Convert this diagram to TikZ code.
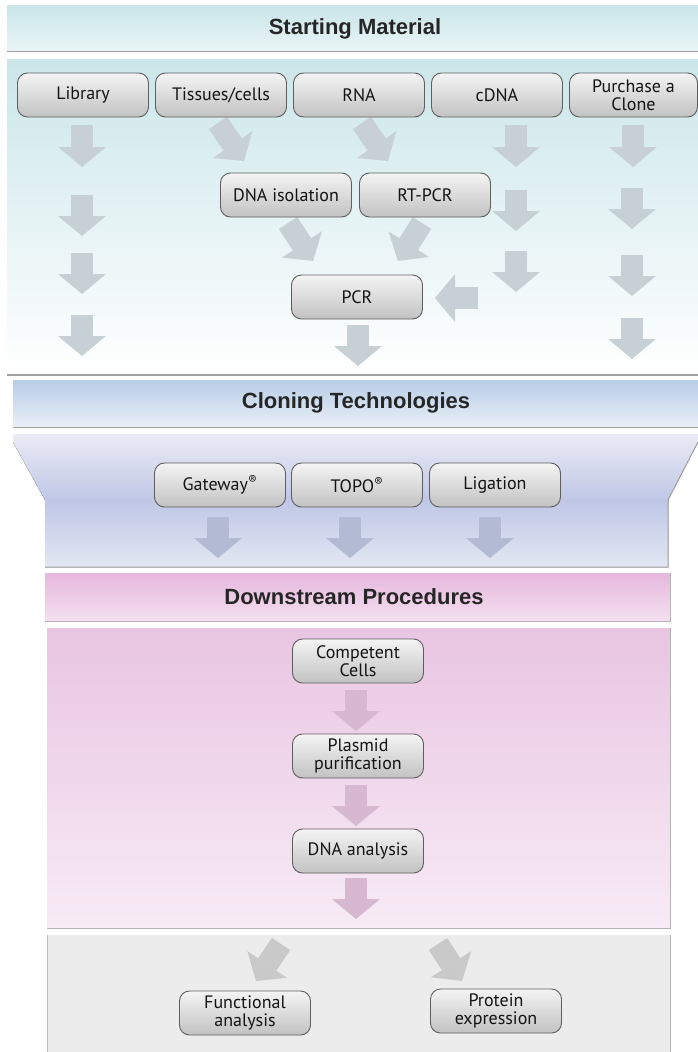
\documentclass[tikz,border=0pt]{standalone}
\usepackage{fontspec}
\setmainfont{PT Sans}
\newfontfamily\headfont{Liberation Sans}
\usetikzlibrary{arrows.meta}

\definecolor{boxtop}{HTML}{F4F4F4}
\definecolor{boxbot}{HTML}{C2C2C2}
\definecolor{boxline}{HTML}{5E5E5E}
\definecolor{tealA}{HTML}{C9E5EA}
\definecolor{tealB}{HTML}{E9F4F5}
\definecolor{tealP}{HTML}{CBE6EA}
\definecolor{blueA}{HTML}{B8CDE7}
\definecolor{blueB}{HTML}{E8EEF6}
\definecolor{lavA}{HTML}{EBEBF5}
\definecolor{lavM}{HTML}{BFC7E6}
\definecolor{lavB}{HTML}{E3E7F3}
\definecolor{pinkA}{HTML}{E6B7DD}
\definecolor{pinkB}{HTML}{F4E0F0}
\definecolor{pinkP}{HTML}{E9C5E2}
\definecolor{pinkQ}{HTML}{F7EBF5}
\definecolor{grayP}{HTML}{ECECEC}
\definecolor{edge}{HTML}{A0A0A0}
\definecolor{arrTeal}{HTML}{C7D1D5}
\definecolor{arrBlue}{HTML}{B3BAD4}
\definecolor{arrPink}{HTML}{D6B9D1}
\definecolor{arrGray}{HTML}{C9C9C9}

\begin{document}
\begin{tikzpicture}[x=1pt,y=-1pt,
  stepbox/.style={draw=boxline, line width=0.9pt, rounded corners=10pt,
    top color=boxtop, bottom color=boxbot, minimum width=131pt,
    minimum height=44pt, inner sep=1pt, align=center, text=black!92,
    font=\fontsize{18}{18}\selectfont},
  heading/.style={font=\headfont\bfseries\fontsize{22}{24}\selectfont, text=black!85},
  fat/.style={line width=22pt,
    -{Triangle[width=48pt 0,length=20pt 0,line width=0pt 0]}},
  tealarrow/.style={fat, draw=arrTeal},
  bluearrow/.style={fat, draw=arrBlue},
  pinkarrow/.style={fat, draw=arrPink},
  grayarrow/.style={fat, draw=arrGray},
  shadowline/.style={draw=edge, line width=1.4pt}
]
\useasboundingbox (0,0) rectangle (698,1052);
\fill[white] (0,0) rectangle (698,1052);

% ---------- Starting material ----------
\fill[top color=tealA, bottom color=tealB] (7,5) rectangle (698,50);
\draw[shadowline] (7,51.5) -- (698,51.5);
\fill[top color=tealP, bottom color=white] (7,59) rectangle (698,373);
\draw[shadowline] (7,375) -- (698,375);
\node[heading] (h1) at (355,29) {Starting Material};

% ---------- Cloning technologies ----------
\fill[top color=blueA, bottom color=blueB] (13,380) rectangle (698,426);
\draw[shadowline] (13,427.5) -- (698,427.5);
\fill[top color=lavA, bottom color=lavB, middle color=lavM]
  (13,434) -- (698,434) -- (698,442) -- (668,500) -- (668,567)
  -- (45,567) -- (45,500) -- (13,442) -- cycle;
\draw[draw=edge, line width=1pt] (698,442) -- (668,500) -- (668,567) -- (45,567);
\node[heading] (h2) at (356,403) {Cloning Technologies};

% ---------- Downstream procedures ----------
\fill[top color=pinkA, bottom color=pinkB] (45,573) rectangle (670,621);
\draw[draw=edge!80, line width=0.8pt] (670,573) -- (670,621) -- (45,621);
\fill[top color=pinkP, bottom color=pinkQ] (47,628) rectangle (670,928);
\draw[draw=edge!80, line width=0.8pt] (670,628) -- (670,928) -- (47,928);
\fill[grayP] (47,935) rectangle (670,1052);
\draw[draw=edge!80, line width=0.8pt] (670,935) -- (670,1052);
\draw[draw=grayP!80!black, line width=0.6pt] (47,935) -- (47,1052);
\node[heading] (h3) at (354,597) {Downstream Procedures};

% ---------- block arrows (tail -> tip) ----------
\foreach \n/\x/\ya/\yb in {a1/82/125/167, a2/82/195/236, a3/82/253/294, a4/82/315/356,
    c1/516/125/167, c2/516/190/231, c3/516/251/292,
    p1/633/125/167, p2/632/188/229, p3/632/255/296, p4/632/318/359,
    q1/358/325/366}{
  \coordinate (\n s) at (\x,\ya);
  \coordinate (\n e) at (\x,\yb);
  \draw[tealarrow] (\n s) -- (\n e);
}
\coordinate (ts) at (218,123); \coordinate (te) at (244,161);
\coordinate (rs) at (362,123); \coordinate (re) at (388,161);
\coordinate (ds) at (288,223); \coordinate (de) at (313,261);
\coordinate (ks) at (422,223); \coordinate (ke) at (398,261);
\coordinate (ls) at (478,298); \coordinate (le) at (435,298);
\draw[tealarrow] (ts) -- (te);
\draw[tealarrow] (rs) -- (re);
\draw[tealarrow] (ds) -- (de);
\draw[tealarrow] (ks) -- (ke);
\draw[tealarrow] (ls) -- (le);

\foreach \n/\x in {g/218, t/350, l/490}{
  \coordinate (\n cs) at (\x,517);
  \coordinate (\n ce) at (\x,558);
  \draw[bluearrow] (\n cs) -- (\n ce);
}
\foreach \n/\ya/\yb in {d1/690/731, d2/785/826, d3/878/919}{
  \coordinate (\n s) at (356,\ya);
  \coordinate (\n e) at (356,\yb);
  \draw[pinkarrow] (\n s) -- (\n e);
}
\coordinate (fs) at (281,944); \coordinate (fe) at (256,981);
\coordinate (es) at (438,944); \coordinate (ee) at (462,981);
\draw[grayarrow] (fs) -- (fe);
\draw[grayarrow] (es) -- (ee);

% ---------- process boxes ----------
\node[stepbox] (lib)  at (83,95)  {Library};
\node[stepbox] (tis)  at (221,95) {Tissues/cells};
\node[stepbox] (rna)  at (359,95) {RNA};
\node[stepbox] (cdna) at (497,95) {cDNA};
\node[stepbox, minimum width=128pt] (buy) at (633.5,95) {Purchase a\\Clone};
\node[stepbox] (iso)  at (286,195) {DNA isolation};
\node[stepbox] (rt)   at (425,195) {RT-PCR};
\node[stepbox] (pcr)  at (357,297) {PCR};

\node[stepbox] (gw)   at (220,485) {Gateway\textsuperscript{\textregistered}};
\node[stepbox] (topo) at (357,485) {TOPO\textsuperscript{\textregistered}};
\node[stepbox] (lig)  at (495,485) {Ligation};

\node[stepbox] (cc)   at (358,661) {Competent\\Cells};
\node[stepbox] (pp)   at (358,756) {Plasmid\\purification};
\node[stepbox] (dna)  at (358,851) {DNA analysis};
\node[stepbox] (fa)   at (245,1013) {Functional\\analysis};
\node[stepbox] (pe)   at (496,1011) {Protein\\expression};
\end{tikzpicture}
\end{document}
